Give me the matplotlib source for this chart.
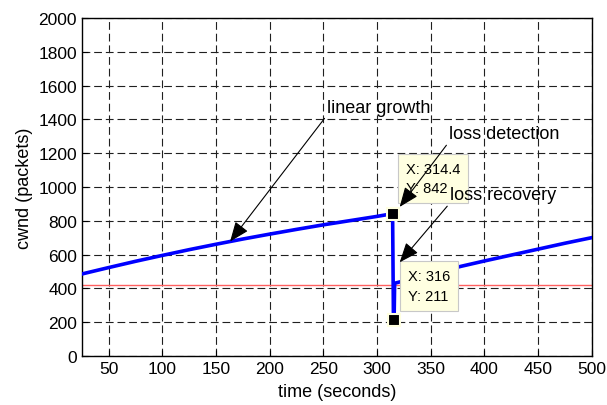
import numpy as np
import matplotlib
matplotlib.use("Agg")
import matplotlib.pyplot as plt

plt.rcParams["font.family"] = ["Liberation Sans", "DejaVu Sans"]

# cwnd before the loss (linear growth)
t_growth = [25, 50, 75, 100, 125, 150, 175, 200, 225, 250, 275, 300, 314.4]
cwnd_growth = [485, 523, 560, 595, 629, 661, 692, 721, 749, 776, 801, 826, 842]

# drop at loss and growth after recovery
t_recovery = [314.4, 315.2, 315.8, 316.3, 350, 378, 400, 425, 450, 475, 500]
cwnd_recovery = [842, 211, 211, 430, 485, 530, 562, 597, 632, 667, 700]

threshold = 420

# data tips
tip_x = [314.4, 316]
tip_y = [842, 211]

fig = plt.figure(figsize=(6.07, 4.06), dpi=100)
ax = fig.add_axes([0.135, 0.121, 0.84, 0.832])

ax.axhline(threshold, color="#ff6060", lw=1.0, zorder=2)
ax.plot(t_growth, cwnd_growth, color="#0000ff", lw=2.6, zorder=3)
ax.plot(t_recovery, cwnd_recovery, color="#0000ff", lw=2.6, zorder=3)
ax.plot(tip_x, tip_y, ls="none", marker="s", ms=9, mfc="black",
        mec="#ffffe0", mew=1.5, zorder=6)

ax.set_xlim(25, 500)
ax.set_ylim(0, 2000)
ax.set_xticks(np.arange(50, 501, 50))
ax.set_yticks(np.arange(0, 2001, 200))
ax.grid(True, color="#202020", lw=0.8, linestyle=(0, (7, 3.5)))
ax.tick_params(direction="in", length=4, labelsize=12.5, top=False, right=False)
for s in ax.spines.values():
    s.set_linewidth(1.0)
ax.set_xlabel("time (seconds)", fontsize=13, labelpad=5)
ax.set_ylabel("cwnd (packets)", fontsize=13, labelpad=4)

arrow = dict(arrowstyle="-|>,head_length=0.55,head_width=0.22", color="black",
             lw=0.8, mutation_scale=22, relpos=(0, 0), shrinkA=0, shrinkB=0)

g_tip = 163
ax.annotate("linear growth", xy=(g_tip, np.interp(g_tip, t_growth, cwnd_growth)),
            xytext=(253, 1473), fontsize=13, ha="left", va="center",
            arrowprops=arrow, zorder=7)

# datatip boxes
box = dict(boxstyle="square,pad=0.55", fc="#ffffe1", ec="#c8c8c8", lw=0.8)
ax.text(326.5, 1050, f"X: {tip_x[0]}\nY: {tip_y[0]}", fontsize=10.5,
        ha="left", va="center", bbox=box, linespacing=1.5, zorder=5)
ax.text(328.5, 414, f"X: {tip_x[1]}\nY: {tip_y[1]}", fontsize=10.5,
        ha="left", va="center", bbox=box, linespacing=1.5, zorder=5)

ax.annotate("loss detection", xy=(321, 882), xytext=(366.5, 1314),
            fontsize=13, ha="left", va="center", arrowprops=arrow, zorder=7)
ax.annotate("loss recovery", xy=(321, 554), xytext=(367.5, 953),
            fontsize=13, ha="left", va="center", arrowprops=arrow, zorder=7)

fig.savefig("out.png", dpi=100)
